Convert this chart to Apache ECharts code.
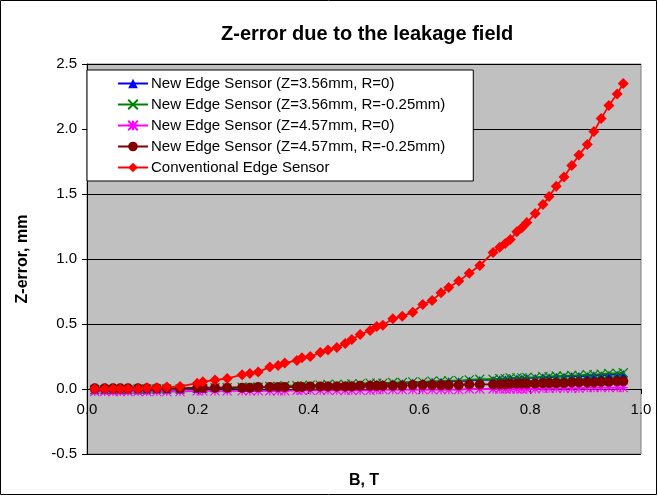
<!DOCTYPE html>
<html>
<head>
<meta charset="utf-8">
<script src="https://cdn.jsdelivr.net/npm/echarts@6/dist/echarts.min.js"></script>
<style>
    html, body { margin: 0; padding: 0; background: #fff; }
    #chart { width: 658px; height: 496px; }
</style>
</head>
<body>
<div id="chart"></div>
<script>
// 横轴 B (T)
const bValues = [0.014, 0.032, 0.047, 0.060, 0.074, 0.092, 0.108, 0.126, 0.144, 0.168,
    0.199, 0.209, 0.231, 0.253, 0.280, 0.294, 0.309, 0.330, 0.345, 0.357,
    0.379, 0.388, 0.403, 0.421, 0.435, 0.451, 0.466, 0.478, 0.493, 0.511,
    0.523, 0.534, 0.552, 0.569, 0.588, 0.606, 0.623, 0.639, 0.653, 0.671,
    0.690, 0.709, 0.733, 0.745, 0.755, 0.764, 0.776, 0.785, 0.794, 0.809,
    0.823, 0.834, 0.847, 0.861, 0.875, 0.888, 0.903, 0.915, 0.928, 0.942,
    0.957, 0.968];

// Z=3.56mm, R=0
const newZ356R0 = [-0.01, -0.01, -0.01, -0.01, -0.01, -0.01, -0.01, -0.005, -0.005, -0.005,
    0.00, 0.00, 0.005, 0.005, 0.01, 0.01, 0.01, 0.015, 0.015, 0.02,
    0.02, 0.02, 0.025, 0.025, 0.03, 0.03, 0.03, 0.035, 0.035, 0.04,
    0.04, 0.04, 0.045, 0.045, 0.05, 0.05, 0.055, 0.055, 0.06, 0.06,
    0.065, 0.07, 0.07, 0.075, 0.075, 0.08, 0.08, 0.08, 0.085, 0.085,
    0.09, 0.09, 0.095, 0.095, 0.10, 0.10, 0.10, 0.105, 0.105, 0.11,
    0.11, 0.115];

// Z=3.56mm, R=-0.25mm
const newZ356R025 = [-0.005, -0.005, -0.005, -0.005, -0.005, 0.00, 0.00, 0.00, 0.00, 0.00,
    0.005, 0.005, 0.01, 0.01, 0.015, 0.015, 0.015, 0.02, 0.02, 0.025,
    0.025, 0.025, 0.03, 0.03, 0.035, 0.035, 0.035, 0.04, 0.04, 0.045,
    0.045, 0.045, 0.05, 0.05, 0.055, 0.055, 0.06, 0.06, 0.065, 0.065,
    0.07, 0.075, 0.075, 0.08, 0.08, 0.085, 0.085, 0.085, 0.09, 0.09,
    0.095, 0.095, 0.10, 0.10, 0.105, 0.105, 0.11, 0.11, 0.115, 0.12,
    0.12, 0.125];

// Z=4.57mm, R=0
const newZ457R0 = [-0.02, -0.02, -0.02, -0.02, -0.02, -0.02, -0.02, -0.02, -0.02, -0.02,
    -0.015, -0.015, -0.015, -0.015, -0.015, -0.015, -0.015, -0.015, -0.015, -0.015,
    -0.01, -0.01, -0.01, -0.01, -0.01, -0.01, -0.01, -0.01, -0.01, -0.01,
    -0.005, -0.005, -0.005, -0.005, -0.005, -0.005, -0.005, -0.005, -0.005, -0.005,
    0.00, 0.00, 0.00, 0.00, 0.00, 0.00, 0.00, 0.00, 0.00, 0.00,
    0.005, 0.005, 0.005, 0.005, 0.005, 0.005, 0.01, 0.01, 0.01, 0.01,
    0.01, 0.01];

// Z=4.57mm, R=-0.25mm
const newZ457R025 = [0.005, 0.005, 0.005, 0.005, 0.005, 0.005, 0.005, 0.005, 0.005, 0.005,
    0.01, 0.01, 0.01, 0.01, 0.01, 0.01, 0.015, 0.015, 0.015, 0.015,
    0.015, 0.015, 0.02, 0.02, 0.02, 0.02, 0.02, 0.02, 0.025, 0.025,
    0.025, 0.025, 0.025, 0.025, 0.03, 0.03, 0.03, 0.03, 0.03, 0.03,
    0.035, 0.035, 0.035, 0.035, 0.035, 0.04, 0.04, 0.04, 0.04, 0.04,
    0.045, 0.045, 0.045, 0.045, 0.05, 0.05, 0.05, 0.05, 0.055, 0.055,
    0.06, 0.06];

// 传统边缘传感器
const conventional = [0.00, 0.00, 0.00, 0.00, 0.00, 0.00, 0.01, 0.01, 0.015, 0.02,
    0.045, 0.055, 0.07, 0.08, 0.11, 0.12, 0.13, 0.17, 0.18, 0.20,
    0.22, 0.24, 0.25, 0.28, 0.30, 0.32, 0.35, 0.38, 0.42, 0.45,
    0.48, 0.49, 0.54, 0.56, 0.59, 0.65, 0.68, 0.74, 0.78, 0.83,
    0.89, 0.95, 1.05, 1.09, 1.12, 1.15, 1.21, 1.24, 1.28, 1.35,
    1.42, 1.48, 1.56, 1.63, 1.72, 1.80, 1.88, 1.98, 2.08, 2.18,
    2.27, 2.35];

const seriesNames = [
    "New Edge Sensor (Z=3.56mm, R=0)",
    "New Edge Sensor (Z=3.56mm, R=-0.25mm)",
    "New Edge Sensor (Z=4.57mm, R=0)",
    "New Edge Sensor (Z=4.57mm, R=-0.25mm)",
    "Conventional Edge Sensor",
];

const FONT = "Liberation Sans, Arial, sans-serif";

// 两个自定义标记：X 和星号
const crossPath = "path://M0,0L10,10M10,0L0,10";
const starPath = "path://M0,0L10,10M10,0L0,10M5,0L5,10M0,5L10,5";

function pairs(ys) {
    return bValues.map((b, i) => [b, ys[i]]);
}

function makeSeries(name, ys, color, symbol, size, stroke) {
    return {
        name,
        type: "line",
        data: pairs(ys),
        symbol,
        symbolSize: size,
        showSymbol: true,
        lineStyle: { color, width: 1.8 },
        itemStyle: stroke
            ? { color: "none", borderColor: color, borderWidth: 1.2 }
            : { color, borderWidth: 0 },
        emphasis: { disabled: true },
        animation: false,
    };
}

const chart = echarts.init(document.getElementById("chart"));

const option = {
    animation: false,
    title: {
        text: "Z-error due to the leakage field",
        left: 216,
        top: 19,
        textStyle: { fontFamily: FONT, fontSize: 20, fontWeight: "bold", color: "#000" },
    },
    graphic: [
        {
            type: "rect",
            shape: { x: 0.5, y: 0.5, width: 656, height: 494 },
            style: { fill: "none", stroke: "#000", lineWidth: 1 },
            silent: true,
        },
    ],
    legend: {
        orient: "vertical",
        left: 87,
        top: 70,
        padding: [6, 28, 6, 30],
        itemGap: 6,
        itemWidth: 30,
        itemHeight: 12,
        backgroundColor: "#fff",
        borderColor: "#000",
        borderWidth: 1,
        borderRadius: 0,
        data: seriesNames,
        textStyle: { fontFamily: FONT, fontSize: 15, color: "#000", padding: [0, 0, 0, -2] },
    },
    grid: {
        left: 87,
        right: 17,
        top: 64,
        bottom: 42,
        outerBoundsMode: "none",
        containLabel: false,
        show: true,
        backgroundColor: "#c0c0c0",
        borderColor: "#808080",
        borderWidth: 1,
    },
    xAxis: {
        type: "value",
        min: 0,
        max: 1,
        interval: 0.2,
        // 横轴画在 y=0 处（-0.5 到 0 之间相差 65px）
        offset: -65,
        name: "B, T",
        nameLocation: "middle",
        nameGap: 84,
        nameTextStyle: { fontFamily: FONT, fontSize: 16, fontWeight: "bold", color: "#000" },
        axisLine: { onZero: false, lineStyle: { color: "#000", width: 1 } },
        axisTick: { show: true, length: 5, lineStyle: { color: "#000" } },
        axisLabel: {
            fontFamily: FONT,
            fontSize: 15,
            color: "#000",
            margin: 13,
            formatter: v => v.toFixed(1),
        },
        splitLine: { show: false },
    },
    yAxis: {
        type: "value",
        min: -0.5,
        max: 2.5,
        interval: 0.5,
        name: "Z-error, mm",
        nameLocation: "middle",
        nameGap: 56,
        nameTextStyle: { fontFamily: FONT, fontSize: 16, fontWeight: "bold", color: "#000" },
        axisLine: { show: true, onZero: false, lineStyle: { color: "#000", width: 1 } },
        axisTick: { show: true, length: 5, lineStyle: { color: "#000" } },
        axisLabel: {
            fontFamily: FONT,
            fontSize: 15,
            color: "#000",
            margin: 10,
            formatter: v => v.toFixed(1),
        },
        splitLine: { show: true, lineStyle: { color: "#000", width: 1 } },
    },
    series: [
        makeSeries(seriesNames[0], newZ356R0, "#0000ff", "triangle", 8, false),
        makeSeries(seriesNames[1], newZ356R025, "#008000", crossPath, 9, true),
        makeSeries(seriesNames[2], newZ457R0, "#ff00ff", starPath, 9, true),
        makeSeries(seriesNames[3], newZ457R025, "#800000", "circle", 10, false),
        makeSeries(seriesNames[4], conventional, "#ff0000", "diamond", 11, false),
    ],
};

chart.setOption(option);
</script>
</body>
</html>
